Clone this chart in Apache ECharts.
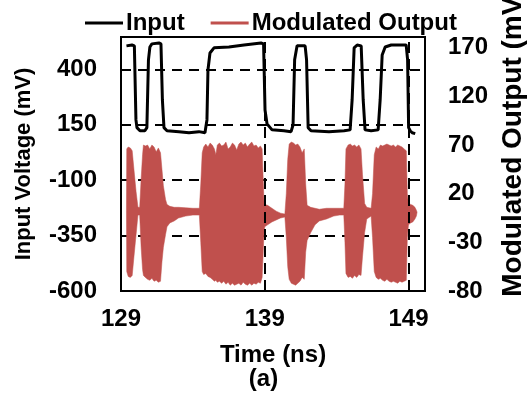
<!DOCTYPE html>
<html>
<head>
<meta charset="utf-8">
<script src="https://cdn.jsdelivr.net/npm/echarts@6/dist/echarts.min.js"></script>
<style>html,body{margin:0;padding:0;background:#fff;}#c{width:527px;height:397px;}</style>
</head>
<body>
<div id="c"></div>
<script>
// ---- tick labels ----
const timeTicks = [129, 139, 149];
const inputTicks = [-600, -350, -100, 150, 400];
const outputTicks = [-80, -30, 20, 70, 120, 170];
const gridTimes = [139, 149];
const gridInput = [-350, -100, 150, 400];

// ---- Input (mV) vs time (ns) ----
const inputTime = [129.38,129.76,129.93,130.04,130.11,130.32,130.66,130.80,130.91,131.01,131.15,131.64,131.78,131.88,131.99,132.20,133.03,133.73,134.42,134.84,134.98,135.05,135.19,135.47,136.51,137.56,138.74,138.92,139.02,139.16,139.51,140.34,140.83,140.97,141.08,141.25,141.81,141.91,142.02,142.22,143.47,144.52,144.94,145.08,145.22,145.43,145.71,145.85,145.98,146.40,146.89,147.03,147.17,147.38,147.80,148.84,148.94,149.01,149.12,149.26,149.47];
const inputMv   = [506,510,506,172,137,123,123,137,443,501,515,519,515,262,137,123,119,114,119,114,172,397,474,497,501,510,519,515,217,154,127,123,119,149,443,506,506,443,137,123,119,123,127,262,497,510,506,262,127,123,127,262,465,501,510,510,443,137,123,114,110];

// ---- Modulated output envelope (mV) vs time (ns) ----
const outTime  = [129.38,129.40,129.50,129.65,129.78,129.90,130.05,130.18,130.30,130.40,130.50,130.56,130.70,130.85,131.00,131.15,131.30,131.45,131.60,131.75,131.85,131.95,132.10,132.20,132.40,132.70,133.00,133.50,134.00,134.45,134.55,134.65,134.75,134.90,135.05,135.20,135.35,135.50,135.60,135.70,135.85,136.00,136.15,136.30,136.45,136.60,136.75,136.90,137.05,137.20,137.35,137.50,137.65,137.80,137.95,138.10,138.25,138.40,138.55,138.70,138.82,138.88,138.95,139.00,139.20,139.50,139.80,140.10,140.40,140.50,140.60,140.70,140.85,141.00,141.15,141.30,141.45,141.60,141.75,141.85,141.95,142.20,142.50,142.80,143.30,143.80,144.20,144.50,144.58,144.65,144.80,144.95,145.10,145.25,145.40,145.55,145.70,145.80,145.95,146.10,146.40,146.50,146.62,146.75,146.90,147.05,147.20,147.35,147.50,147.65,147.80,147.95,148.10,148.25,148.40,148.55,148.70,148.85,148.92,149.00,149.15,149.30,149.45,149.55,149.60];
const outUpper = [3,66,68,67,64,45,22,6,6,35,60,70,69,70,66,70,68,63,67,62,45,28,14,9,7,6,6,5.5,5,5,30,62,68,71,68,72,70,66,60,70,72,69,70,73,66,68,72,70,65,71,73,70,72,68,71,73,69,70,67,69,66,40,12,9,8,5,2,0,-1,20,55,71,73,72,70,71,68,62,66,30,8,6,5,4,5,5,5,5,30,66,70,71,69,70,68,70,66,40,10,6,5,20,60,68,66,70,69,70,71,70,69,70,68,70,69,68,66,64,20,10,9,8,6,3,1];
const outLower = [3,-60,-65,-66,-64,-45,-22,-2,-2,-35,-58,-64,-66,-68,-69,-67,-70,-69,-71,-70,-50,-35,-22,-14,-10,-8,-5,-3,-2,-2,-30,-60,-63,-62,-65,-66,-68,-70,-69,-71,-70,-72,-70,-73,-71,-74,-72,-74,-73,-72,-74,-71,-73,-74,-72,-74,-72,-73,-71,-72,-66,-45,-20,-14,-12,-9,-7,-5,-4,-25,-55,-68,-72,-73,-74,-72,-70,-66,-68,-40,-28,-20,-12,-8,-6,-3,-2,-2,-30,-62,-66,-65,-67,-64,-66,-63,-64,-45,-20,-6,-3,-25,-60,-66,-68,-67,-69,-70,-68,-70,-71,-70,-71,-72,-70,-71,-70,-69,-25,-12,-10,-9,-6,-3,1];

const FONT = 'Liberation Sans, Arial, sans-serif';
const RED = '#C0504D';
const BORDER = {show: true, onZero: false, lineStyle: {color: '#000', width: 2}};

const outData = outTime.map((t, i) => [t, outUpper[i], outLower[i]]);
const inData = inputTime.map((t, i) => [t, inputMv[i]]);

const chart = echarts.init(document.getElementById('c'), null, {renderer: 'canvas'});
chart.setOption({
  animation: false,
  backgroundColor: '#fff',
  textStyle: {fontFamily: FONT},
  title: {
    text: '(a)', left: 'center', top: 362,
    textStyle: {fontFamily: FONT, fontWeight: 'bold', fontSize: 24, color: '#000'}
  },
  legend: {
    left: 80, top: 6, itemWidth: 38, itemHeight: 3, itemGap: 26, selectedMode: false,
    textStyle: {fontFamily: FONT, fontWeight: 'bold', fontSize: 24, color: '#000', padding: [0, 0, 0, -2]},
    data: [{name: 'Input', icon: 'rect'}, {name: 'Modulated Output', icon: 'rect'}]
  },
  grid: {left: 121, right: 102, top: 37, bottom: 106, containLabel: false, outerBoundsMode: 'none',
         show: true, borderColor: '#000', borderWidth: 2, backgroundColor: 'transparent'},
  xAxis: [{
    type: 'value', min: 129, max: 150.15, position: 'bottom',
    name: 'Time (ns)', nameLocation: 'middle', nameGap: 52,
    nameTextStyle: {fontFamily: FONT, fontWeight: 'bold', fontSize: 24, color: '#000'},
    axisLine: BORDER, axisTick: {show: false},
    splitLine: {show: false},
    axisLabel: {customValues: timeTicks, margin: 16, fontFamily: FONT, fontWeight: 'bold', fontSize: 24, color: '#000'}
  }, {
    type: 'value', min: 129, max: 150.15, position: 'top',
    axisLine: BORDER, axisTick: {show: false}, axisLabel: {show: false}, splitLine: {show: false}
  }],
  yAxis: [{
    type: 'value', min: -600, max: 546, position: 'left',
    name: 'Input Voltage (mV)', nameLocation: 'middle', nameGap: 86, nameRotate: 90,
    nameTextStyle: {fontFamily: FONT, fontWeight: 'bold', fontSize: 22, color: '#000'},
    axisLine: BORDER,
    axisTick: {show: false, customValues: gridInput},
    axisLabel: {customValues: inputTicks, margin: 24, fontFamily: FONT, fontWeight: 'bold', fontSize: 24, color: '#000'},
    splitLine: {show: true, lineStyle: {color: '#000', width: 2, type: [10, 7]}}
  }, {
    type: 'value', min: -80, max: 181, position: 'right',
    name: 'Modulated Output (mV)', nameLocation: 'middle', nameGap: 72, nameRotate: 90,
    nameTextStyle: {fontFamily: FONT, fontWeight: 'bold', fontSize: 28, color: '#000', padding: [0, 0, 0, 44]},
    axisLine: BORDER, axisTick: {show: false},
    axisLabel: {customValues: outputTicks, margin: 23, fontFamily: FONT, fontWeight: 'bold', fontSize: 24, color: '#000'},
    splitLine: {show: false}
  }],
  series: [{
    name: 'Modulated Output', type: 'custom', xAxisIndex: 0, yAxisIndex: 1, z: 2,
    itemStyle: {color: RED},
    encode: {x: 0, y: [1, 2]},
    data: outData,
    clip: true,
    renderItem: function (params, api) {
      if (params.dataIndex !== 0) return null;
      const top = [], bottom = [];
      for (let i = 0; i < outData.length; i++) {
        top.push(api.coord([outData[i][0], outData[i][1]]));
        bottom.push(api.coord([outData[i][0], outData[i][2]]));
      }
      return {type: 'polygon', shape: {points: top.concat(bottom.reverse())}, style: {fill: RED, stroke: RED, lineWidth: 0.5}};
    }
  }, {
    name: 'Input', type: 'line', xAxisIndex: 0, yAxisIndex: 0, z: 3,
    data: inData, showSymbol: false, symbol: 'none',
    itemStyle: {color: '#000'},
    lineStyle: {color: '#000', width: 3},
    markLine: {
      silent: true, symbol: ['none', 'none'], label: {show: false},
      lineStyle: {color: '#000', width: 2, type: [11, 6]},
      data: gridTimes.map(t => ({xAxis: t}))
    }
  }]
});
</script>
</body>
</html>
